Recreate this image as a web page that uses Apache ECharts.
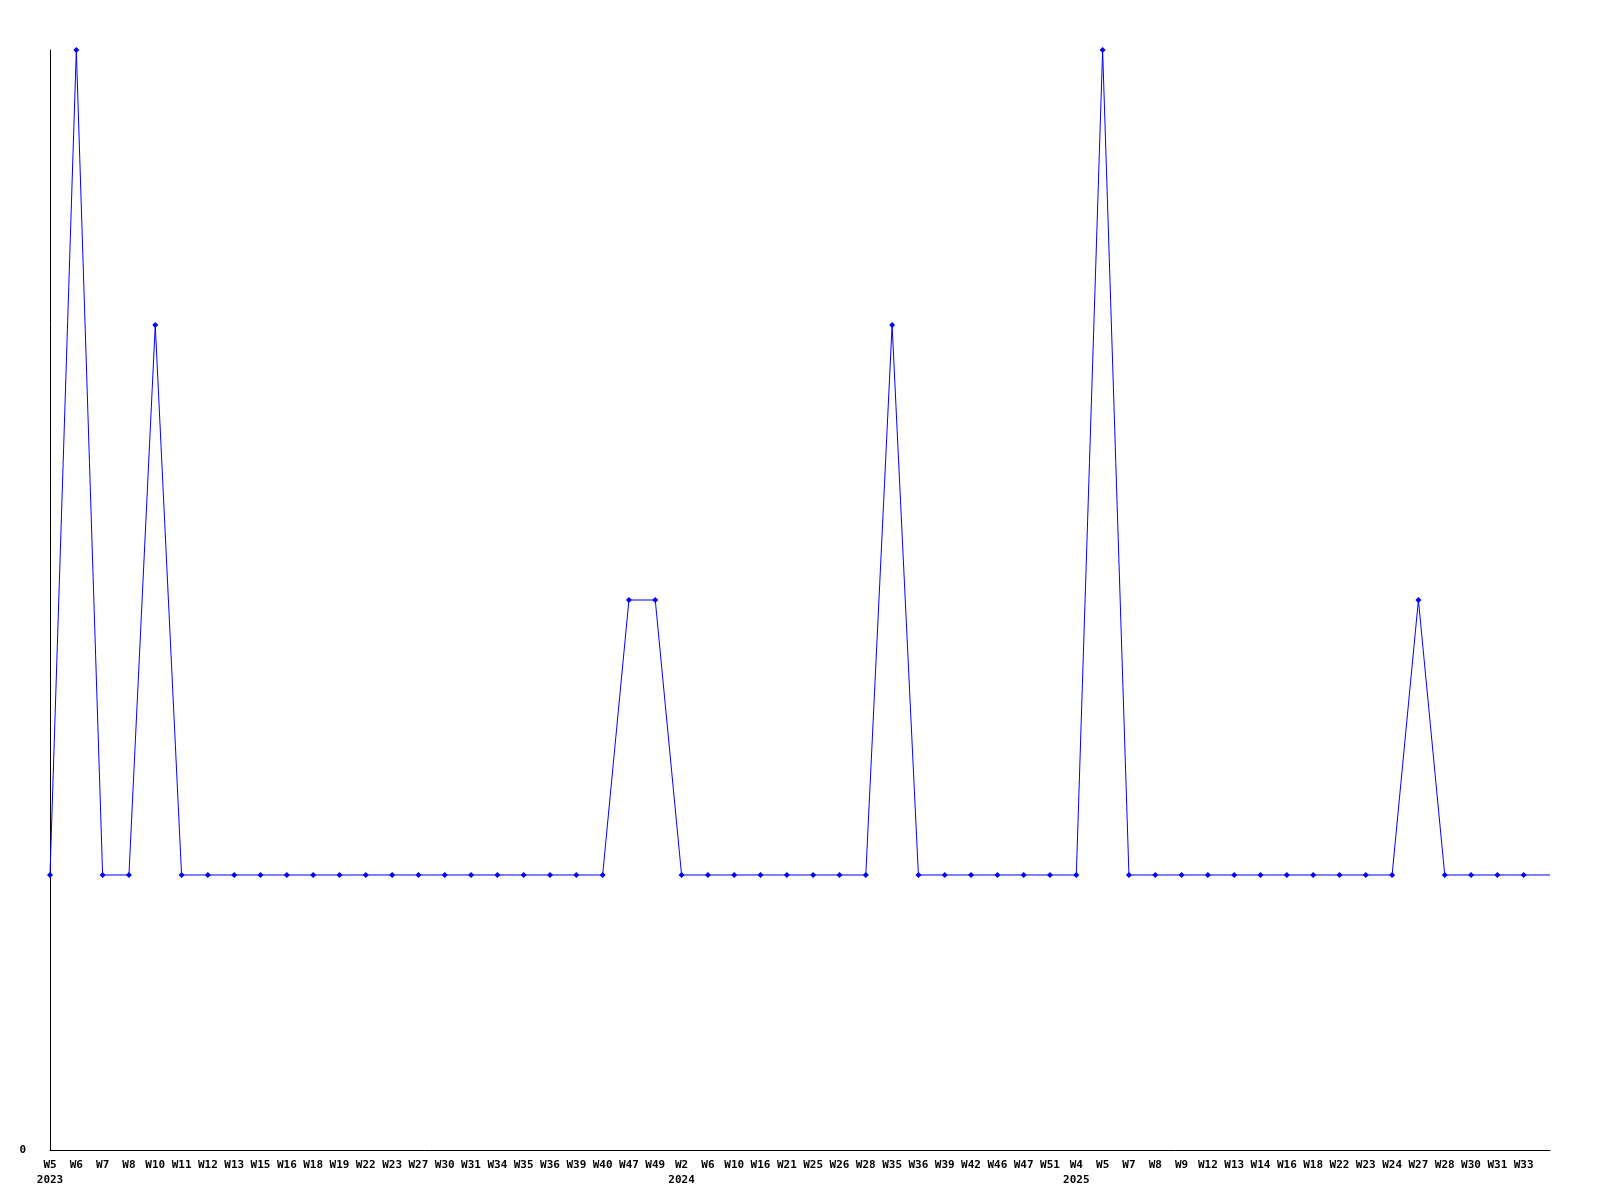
<!DOCTYPE html>
<html><head><meta charset="utf-8">
<script src="https://cdn.jsdelivr.net/npm/echarts@6/dist/echarts.min.js"></script>
<style>html,body{margin:0;padding:0;background:#fff}#c{width:1600px;height:1200px}</style>
</head><body><div id="c"></div>
<script>
// week labels (last slot is the unlabeled axis end)
const weeks = ["W5","W6","W7","W8","W10","W11","W12","W13","W15","W16","W18","W19","W22","W23","W27","W30","W31","W34","W35","W36","W39","W40","W47","W49",
"W2","W6","W10","W16","W21","W25","W26","W28","W35","W36","W39","W42","W46","W47","W51",
"W4","W5","W7","W8","W9","W12","W13","W14","W16","W18","W22","W23","W24","W27","W28","W30","W31","W33",""];
// year shown under the first week of each year (by index)
const yearIdx = [0, 24, 39];
const yearLabels = ["2023", "2024", "2025"];
const values = [1,4,1,1,3,1,1,1,1,1,1,1,1,1,1,1,1,1,1,1,1,1,2,2,
1,1,1,1,1,1,1,1,3,1,1,1,1,1,1,
1,4,1,1,1,1,1,1,1,1,1,1,1,2,1,1,1,1,1];
const yTicks = [0];

const chart = echarts.init(document.getElementById('c'));
const font = '"DejaVu Sans Mono", monospace';
chart.setOption({
  animation: false,
  grid: {left: 50, right: 50, top: 50, bottom: 50, containLabel: false},
  xAxis: {
    type: 'category', data: weeks, boundaryGap: false,
    axisLine: {lineStyle: {color: '#000', width: 1}},
    axisTick: {show: false},
    axisLabel: {
      interval: 0, color: '#000', fontFamily: font, fontWeight: 'bold', fontSize: 11,
      lineHeight: 15, margin: 8,
      formatter: (v, i) => { const k = yearIdx.indexOf(i); return k >= 0 ? v + '\n' + yearLabels[k] : v; }
    },
    splitLine: {show: false}
  },
  yAxis: {
    type: 'value', min: 0, max: 4, interval: 4,
    axisLine: {show: true, lineStyle: {color: '#000', width: 1}},
    axisTick: {show: false},
    splitLine: {show: false},
    axisLabel: {color: '#000', fontFamily: font, fontWeight: 'bold', fontSize: 11, margin: 24,
      formatter: v => yTicks.includes(v) ? String(v) : ''}
  },
  series: [{
    type: 'line', z: 1,
    data: values.map((v, i) => i === values.length - 1 ? {value: v, symbol: 'none'} : v),
    symbol: 'diamond', symbolSize: 6, showAllSymbol: true,
    lineStyle: {color: '#0000ff', width: 1},
    itemStyle: {color: '#0000ff'}
  }]
});
</script></body></html>
